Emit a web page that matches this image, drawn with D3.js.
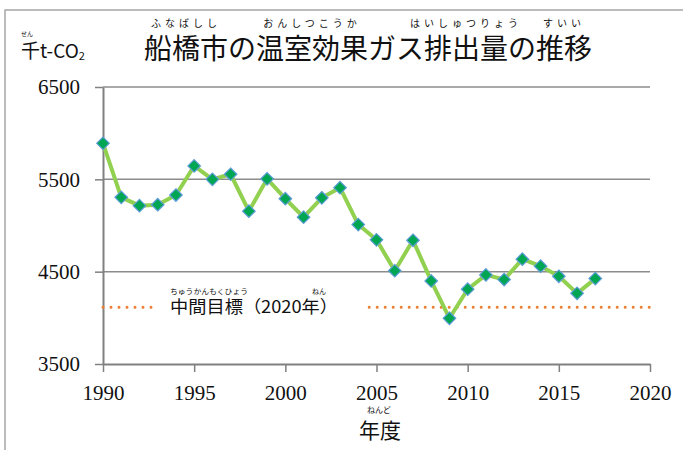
<!DOCTYPE html>
<html><head><meta charset="utf-8">
<script src="https://cdn.jsdelivr.net/npm/d3@7"></script>
<style>body{margin:0;background:#fff}svg{display:block}</style>
</head><body>
<script>
const years = [1990,1991,1992,1993,1994,1995,1996,1997,1998,1999,2000,2001,2002,2003,2004,2005,2006,2007,2008,2009,2010,2011,2012,2013,2014,2015,2016,2017];
const emissions = [5890,5305,5215,5225,5330,5645,5500,5555,5155,5505,5290,5090,5300,5410,5010,4845,4510,4840,4400,3995,4310,4465,4415,4635,4560,4450,4265,4425];
const targetValue = 4115;
const xTicks = [1990,1995,2000,2005,2010,2015,2020];
const yTicks = [3500,4500,5500,6500];
const titleText = "船橋市の温室効果ガス排出量の推移";
const titleRuby = [["ふなばしし",0,3],["おんしつこうか",4,8],["はいしゅつりょう",10,13],["すいい",14,16]];
const unitLabel = "千t-CO";
const xAxisTitle = "年度";
const targetLabel = "中間目標（2020年）";

const W = 683, H = 450;
const svg = d3.select("body").append("svg").attr("width", W).attr("height", H);
const jp = "'Noto Sans CJK JP','Noto Sans',sans-serif";
const serif = "'Liberation Serif','DejaVu Serif',serif";

// frame
svg.append("path").attr("d", `M5,${H} L5,10 L${W},10`).attr("fill","none").attr("stroke","#a6a6a6").attr("stroke-width",1.5);

const x = d3.scaleLinear().domain([1990,2020]).range([103,650]);
const y = d3.scaleLinear().domain([3500,6500]).range([364,87]);

// gridlines
svg.append("g").selectAll("line").data(yTicks.filter(d=>d>3500)).join("line")
  .attr("x1", x(1990)).attr("x2", x(2020)).attr("y1", d=>y(d)).attr("y2", d=>y(d))
  .attr("stroke","#8c8c8c").attr("stroke-width",1.5);

// y axis
const ya = svg.append("g").attr("transform",`translate(${x(1990)},0)`)
  .call(d3.axisLeft(y).tickValues(yTicks).tickSizeInner(8).tickSizeOuter(0).tickPadding(15).tickFormat(d3.format("d")));
ya.select(".domain").attr("stroke","#808080").attr("stroke-width",2);
ya.selectAll(".tick line").attr("stroke","#808080").attr("stroke-width",1.5);
ya.selectAll("text").attr("font-family",serif).attr("font-size",21).attr("fill","#111");

// x axis
const xa = svg.append("g").attr("transform",`translate(0,${y(3500)})`)
  .call(d3.axisBottom(x).tickValues(xTicks).tickSizeInner(8).tickSizeOuter(0).tickFormat(d3.format("d")));
xa.select(".domain").attr("stroke","#808080").attr("stroke-width",2);
xa.selectAll(".tick line").attr("stroke","#808080").attr("stroke-width",1.5);
xa.selectAll("text").attr("font-family",serif).attr("font-size",21).attr("fill","#111").attr("dy",null).attr("y",36);

// target dotted line (with gap for label)
const ty = y(targetValue);
[[1990,1992.8],[2004.6,2020]].forEach(([a,b])=>{
  svg.append("line").attr("x1",x(a)).attr("x2",x(b)).attr("y1",ty).attr("y2",ty)
    .attr("stroke","#ED7D31").attr("stroke-width",3).attr("stroke-linecap","round").attr("stroke-dasharray","0 8");
});
svg.append("text").attr("x",170).attr("y",ty+6).attr("font-family",jp).attr("font-size",17).attr("fill","#111")
  .attr("textLength",168).attr("lengthAdjust","spacingAndGlyphs").text(targetLabel);
svg.append("text").attr("x",170).attr("y",ty-13).attr("font-family",jp).attr("font-size",7).attr("fill","#111")
  .attr("textLength",78).attr("lengthAdjust","spacingAndGlyphs").text("ちゅうかんもくひょう");
svg.append("text").attr("x",319).attr("y",ty-13).attr("text-anchor","middle").attr("font-family",jp).attr("font-size",7).attr("fill","#111").text("ねん");

// series line
const line = d3.line().x((d,i)=>x(years[i])).y(d=>y(d));
svg.append("path").datum(emissions).attr("d",line).attr("fill","none").attr("stroke","#92D050").attr("stroke-width",4).attr("stroke-linejoin","round");
svg.append("g").selectAll("path").data(emissions).join("path")
  .attr("d", d3.symbol(d3.symbolDiamond2 || d3.symbolDiamond, 100))
  .attr("transform",(d,i)=>`translate(${x(years[i])},${y(d)})`)
  .attr("fill","#00A651").attr("stroke","#5B9BD5").attr("stroke-width",1.2);

// title
svg.append("text").attr("x",144).attr("y",59).attr("font-family",jp).attr("font-size",28).attr("fill","#111")
  .attr("textLength",448).attr("lengthAdjust","spacingAndGlyphs").text(titleText);
const cw = 28;
titleRuby.forEach(([r,a,b])=>{
  svg.append("text").attr("x",144+cw*(a+b)/2).attr("y",27).attr("text-anchor","middle")
    .attr("font-family",jp).attr("font-size",10).attr("fill","#111")
    .attr("letter-spacing",4).text(r);
});

// unit label
const ul = svg.append("text").attr("x",21).attr("y",58).attr("font-family",jp).attr("font-size",19).attr("fill","#111");
ul.append("tspan").text(unitLabel);
ul.append("tspan").attr("font-size",11).attr("dy",2).text("2");
svg.append("text").attr("x",27).attr("y",36).attr("text-anchor","middle").attr("font-family",jp).attr("font-size",6).attr("fill","#111").text("せん");

// x axis title
svg.append("text").attr("x",380).attr("y",438).attr("text-anchor","middle").attr("font-family",jp).attr("font-size",21).attr("fill","#111").text(xAxisTitle);
svg.append("text").attr("x",379).attr("y",413).attr("text-anchor","middle").attr("font-family",jp).attr("font-size",8).attr("fill","#111").text("ねんど");
</script>
</body></html>
